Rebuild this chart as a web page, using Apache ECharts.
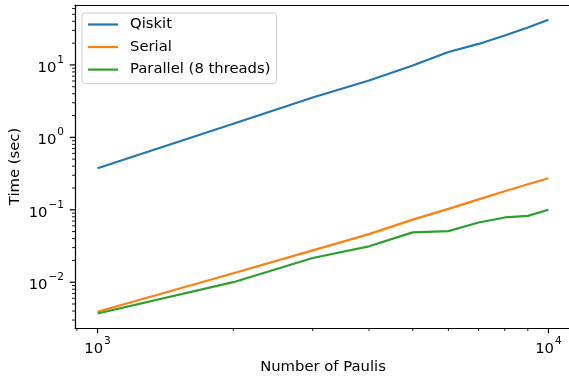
<!DOCTYPE html>
<html>
<head>
<meta charset="utf-8">
<script src="https://cdn.jsdelivr.net/npm/echarts@6/dist/echarts.min.js"></script>
<style>
html,body{margin:0;padding:0;background:#fff;}
#chart{width:569px;height:381px;}
</style>
</head>
<body>
<div id="chart"></div>
<script>
const numPaulis = [1000, 2000, 3000, 4000, 5000, 6000, 7000, 8000, 9000, 10000];
const qiskitTimes = [0.375, 1.54, 3.55, 6.1, 9.8, 15.1, 19.5, 25.5, 32.9, 42];
const serialTimes = [0.0039, 0.0133, 0.0275, 0.0461, 0.0731, 0.103, 0.139, 0.180, 0.225, 0.272];
const parallelTimes = [0.0037, 0.0100, 0.0216, 0.0313, 0.0488, 0.0508, 0.0668, 0.0783, 0.0824, 0.100];
const seriesNames = ['Qiskit', 'Serial', 'Parallel (8 threads)'];
const xMajorTicks = [1000, 10000];
const xMinorTicks = [900, 2000, 3000, 4000, 5000, 6000, 7000, 8000, 9000];
const yMajorTicks = [0.01, 0.1, 1, 10];
const yMinorTicks = [0.003,0.004,0.005,0.006,0.007,0.008,0.009,
  0.02,0.03,0.04,0.05,0.06,0.07,0.08,0.09,
  0.2,0.3,0.4,0.5,0.6,0.7,0.8,0.9,
  2,3,4,5,6,7,8,9,20,30,40,50,60];
const xMin = Math.pow(10, 2.95), xMax = Math.pow(10, 4.05);
const yMin = Math.pow(10, -2.6325), yMax = Math.pow(10, 1.8275);

const FONT = 'DejaVu Sans';
const FS = 14.8;
const colors = ['#1f77b4', '#ff7f0e', '#2ca02c'];

function supLabel(v) {
  const l = Math.log10(v);
  const r = Math.round(l);
  if (Math.abs(l - r) > 1e-6) return '';
  const e = r < 0 ? '\u2212' + Math.abs(r) : String(r);
  return '{b|10}{s|' + e + '}';
}
const richSup = {
  b: {fontFamily: FONT, fontSize: FS, color: '#000', verticalAlign: 'bottom', lineHeight: 21},
  s: {fontFamily: FONT, fontSize: 10.5, color: '#000', verticalAlign: 'top', lineHeight: 21, padding: [0, 0, 0, 1]}
};

function tickSeries(vals, isX, len, width) {
  return {
    type: 'custom',
    coordinateSystem: 'cartesian2d',
    clip: false,
    silent: true,
    z: 5,
    legendHoverLink: false,
    data: vals.map(v => isX ? [v, yMin] : [xMin, v]),
    renderItem: function (params, api) {
      const p = api.coord([api.value(0), api.value(1)]);
      const shape = isX
        ? {x1: p[0], y1: p[1], x2: p[0], y2: p[1] + len}
        : {x1: p[0], y1: p[1], x2: p[0] - len, y2: p[1]};
      return {type: 'line', shape: shape, style: {stroke: '#000', lineWidth: width}};
    }
  };
}

const chart = echarts.init(document.getElementById('chart'), null, {renderer: 'canvas'});
const dataSeries = [qiskitTimes, serialTimes, parallelTimes].map((arr, i) => ({
  name: seriesNames[i],
  type: 'line',
  symbol: 'none',
  showSymbol: false,
  z: 3,
  lineStyle: {color: colors[i], width: 2.2},
  itemStyle: {color: colors[i]},
  data: numPaulis.map((x, j) => [x, arr[j]])
}));

chart.setOption({
  animation: false,
  backgroundColor: '#fff',
  textStyle: {fontFamily: FONT},
  grid: {left: 75, top: 5, right: -2, bottom: 53, containLabel: false, outerBoundsMode: 'none', show: false},
  legend: {
    orient: 'vertical',
    left: 82, top: 13,
    data: seriesNames,
    icon: 'rect',
    itemWidth: 30, itemHeight: 2.2, itemGap: 7.55,
    padding: [4, 6, 6.5, 6],
    backgroundColor: 'rgba(255,255,255,0.8)',
    borderColor: '#cccccc', borderWidth: 1, borderRadius: 3,
    textStyle: {fontFamily: FONT, fontSize: FS, color: '#000', padding: [0, 0, 0, 7]},
    selectedMode: false
  },
  xAxis: [{
    type: 'log', logBase: 10, min: xMin, max: xMax, position: 'bottom',
    name: 'Number of Paulis', nameLocation: 'middle', nameGap: 32, nameMoveOverlap: false,
    nameTextStyle: {fontFamily: FONT, fontSize: FS, color: '#000'},
    axisLine: {show: true, lineStyle: {color: '#000', width: 1.2}},
    axisTick: {show: false},
    splitLine: {show: false},
    minorTick: {show: false},
    axisLabel: {margin: 8, formatter: supLabel, rich: richSup, showMinLabel: false, showMaxLabel: false}
  }, {
    type: 'log', logBase: 10, min: xMin, max: xMax, position: 'top',
    axisLine: {show: true, lineStyle: {color: '#000', width: 1.2}},
    axisTick: {show: false}, axisLabel: {show: false}, splitLine: {show: false}
  }],
  yAxis: {
    type: 'log', logBase: 10, min: yMin, max: yMax,
    name: 'Time (sec)', nameLocation: 'middle', nameGap: 52, nameRotate: 90, nameMoveOverlap: false,
    nameTextStyle: {fontFamily: FONT, fontSize: FS, color: '#000'},
    axisLine: {show: true, lineStyle: {color: '#000', width: 1.2}},
    axisTick: {show: false},
    splitLine: {show: false},
    minorTick: {show: false},
    axisLabel: {margin: 11, formatter: supLabel, rich: richSup, showMinLabel: false, showMaxLabel: false}
  },
  series: dataSeries.concat([
    tickSeries(xMajorTicks, true, 5.2, 1.2),
    tickSeries(xMinorTicks, true, 3, 0.9),
    tickSeries(yMajorTicks, false, 5.2, 1.2),
    tickSeries(yMinorTicks, false, 3, 0.9)
  ])
});
</script>
</body>
</html>
